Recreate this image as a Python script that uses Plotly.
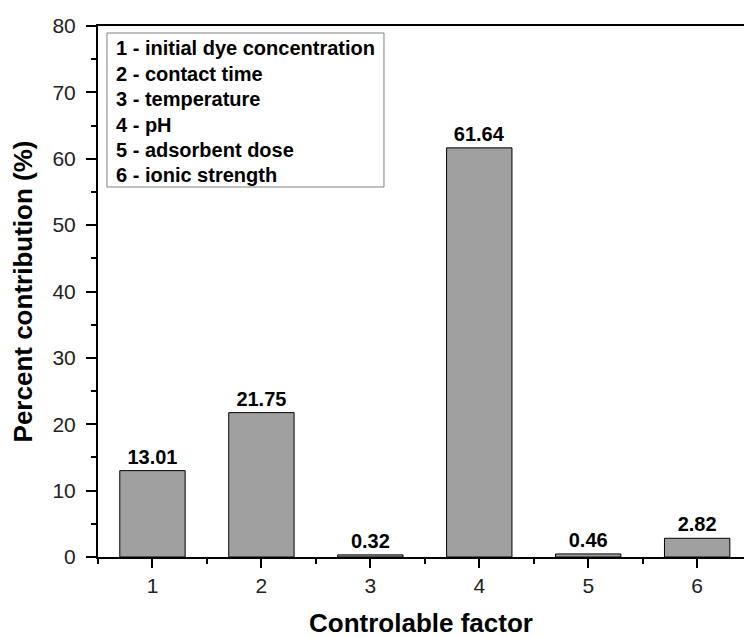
import plotly.graph_objects as go

factors = [1, 2, 3, 4, 5, 6]
contribution = [13.01, 21.75, 0.32, 61.64, 0.46, 2.82]
bar_labels = ["13.01", "21.75", "0.32", "61.64", "0.46", "2.82"]
legend_lines = [
    "1 - initial dye concentration",
    "2 - contact time",
    "3 - temperature",
    "4 - pH",
    "5 - adsorbent dose",
    "6 - ionic strength",
]

FONT = "Liberation Sans"

fig = go.Figure()
fig.add_trace(go.Bar(
    x=factors, y=contribution, width=0.6,
    marker=dict(color="#a0a0a0", line=dict(color="black", width=1)),
    text=bar_labels, textposition="outside", cliponaxis=False,
    textfont=dict(family=FONT, size=20, color="black", weight="bold"),
    showlegend=False,
))

# legend box
fig.add_shape(type="rect", xref="paper", yref="paper",
              x0=0.0139, x1=0.4427, y0=0.6968, y1=0.9868,
              line=dict(color="#808080", width=1), fillcolor="white", layer="below")
for i, line in enumerate(legend_lines):
    fig.add_annotation(xref="paper", yref="paper", x=0.0245,
                       y=1 - (48 + i * 25.5 - 26) / 531,
                       xanchor="left", yanchor="middle", showarrow=False,
                       text="<b>" + line + "</b>",
                       font=dict(family=FONT, size=20, color="black"))

fig.update_layout(
    width=744, height=638,
    margin=dict(l=98, r=0, t=26, b=81),
    plot_bgcolor="white", paper_bgcolor="white",
    font=dict(family=FONT, color="black"),
    bargap=0.4,
)
fig.update_xaxes(
    range=[0.5, 6.43], tick0=1, dtick=1,
    showline=True, linecolor="black", linewidth=2, mirror=True,
    ticks="outside", ticklen=9, tickwidth=2, tickcolor="black",
    minor=dict(tick0=0.5, dtick=1, ticks="outside", ticklen=5, tickwidth=2, tickcolor="black"),
    showgrid=False, zeroline=False,
    tickfont=dict(family=FONT, size=21, color="#222"),
    title=dict(text="<b>Controlable factor</b>", font=dict(family=FONT, size=26, color="black"), standoff=22),
)
fig.update_yaxes(
    range=[0, 80], tick0=0, dtick=10,
    showline=True, linecolor="black", linewidth=2,
    ticks="outside", ticklen=10, tickwidth=2, tickcolor="black",
    minor=dict(dtick=5, ticks="outside", ticklen=5, tickwidth=2, tickcolor="black"),
    showgrid=False, zeroline=False, ticklabelstandoff=6,
    tickfont=dict(family=FONT, size=21, color="#222"),
    title=dict(text="<b>Percent contribution (%)</b>", font=dict(family=FONT, size=26, color="black"), standoff=12),
)

fig.write_html("out.html")
